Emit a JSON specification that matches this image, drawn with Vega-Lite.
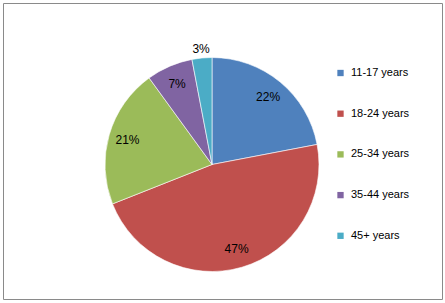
{
  "$schema": "https://vega.github.io/schema/vega-lite/v6.json",
  "width": 439,
  "height": 296,
  "autosize": {"type": "none"},
  "padding": {"left": 3, "top": 3, "right": 3, "bottom": 4},
  "background": "white",
  "view": {"stroke": "#8a8a8a", "strokeWidth": 1, "fill": "white"},
  "config": {
    "font": "Liberation Sans"
  },
  "data": {
    "values": [
      {"age": "11-17 years", "share": 0.22},
      {"age": "18-24 years", "share": 0.47},
      {"age": "25-34 years", "share": 0.21},
      {"age": "35-44 years", "share": 0.07},
      {"age": "45+ years", "share": 0.03}
    ]
  },
  "layer": [
    {
      "mark": {
        "type": "arc",
        "outerRadius": 107,
        "stroke": "white",
        "strokeWidth": 0.6,
        "x": {"expr": "width/2 - 10.5"},
        "y": {"expr": "height/2 + 13.5"}
      },
      "encoding": {
        "theta": {"field": "share", "type": "quantitative", "stack": true},
        "order": {"field": "age", "type": "nominal", "sort": "ascending"},
        "color": {
          "field": "age",
          "type": "nominal",
          "scale": {
            "domain": ["11-17 years", "18-24 years", "25-34 years", "35-44 years", "45+ years"],
            "range": ["#4F81BD", "#C0504D", "#9BBB59", "#8064A2", "#4BACC6"]
          },
          "legend": {
            "title": null,
            "orient": "none",
            "legendX": 332,
            "legendY": 64.5,
            "symbolType": "square",
            "symbolSize": 40,
            "symbolStrokeWidth": 0,
            "labelFontSize": 11,
            "labelColor": "#000000",
            "labelOffset": 5,
            "rowPadding": 28.7,
            "padding": 0
          }
        }
      }
    },
    {
      "mark": {
        "type": "text",
        "radius": {"expr": "datum.share < 0.05 ? 116 : 88"},
        "fontSize": 12,
        "color": "#000000",
        "x": {"expr": "width/2 - 10.5"},
        "y": {"expr": "height/2 + 13.5"}
      },
      "encoding": {
        "theta": {"field": "share", "type": "quantitative", "stack": true},
        "order": {"field": "age", "type": "nominal", "sort": "ascending"},
        "detail": {"field": "age", "type": "nominal"},
        "text": {"field": "share", "type": "quantitative", "format": ".0%"}
      }
    }
  ]
}
